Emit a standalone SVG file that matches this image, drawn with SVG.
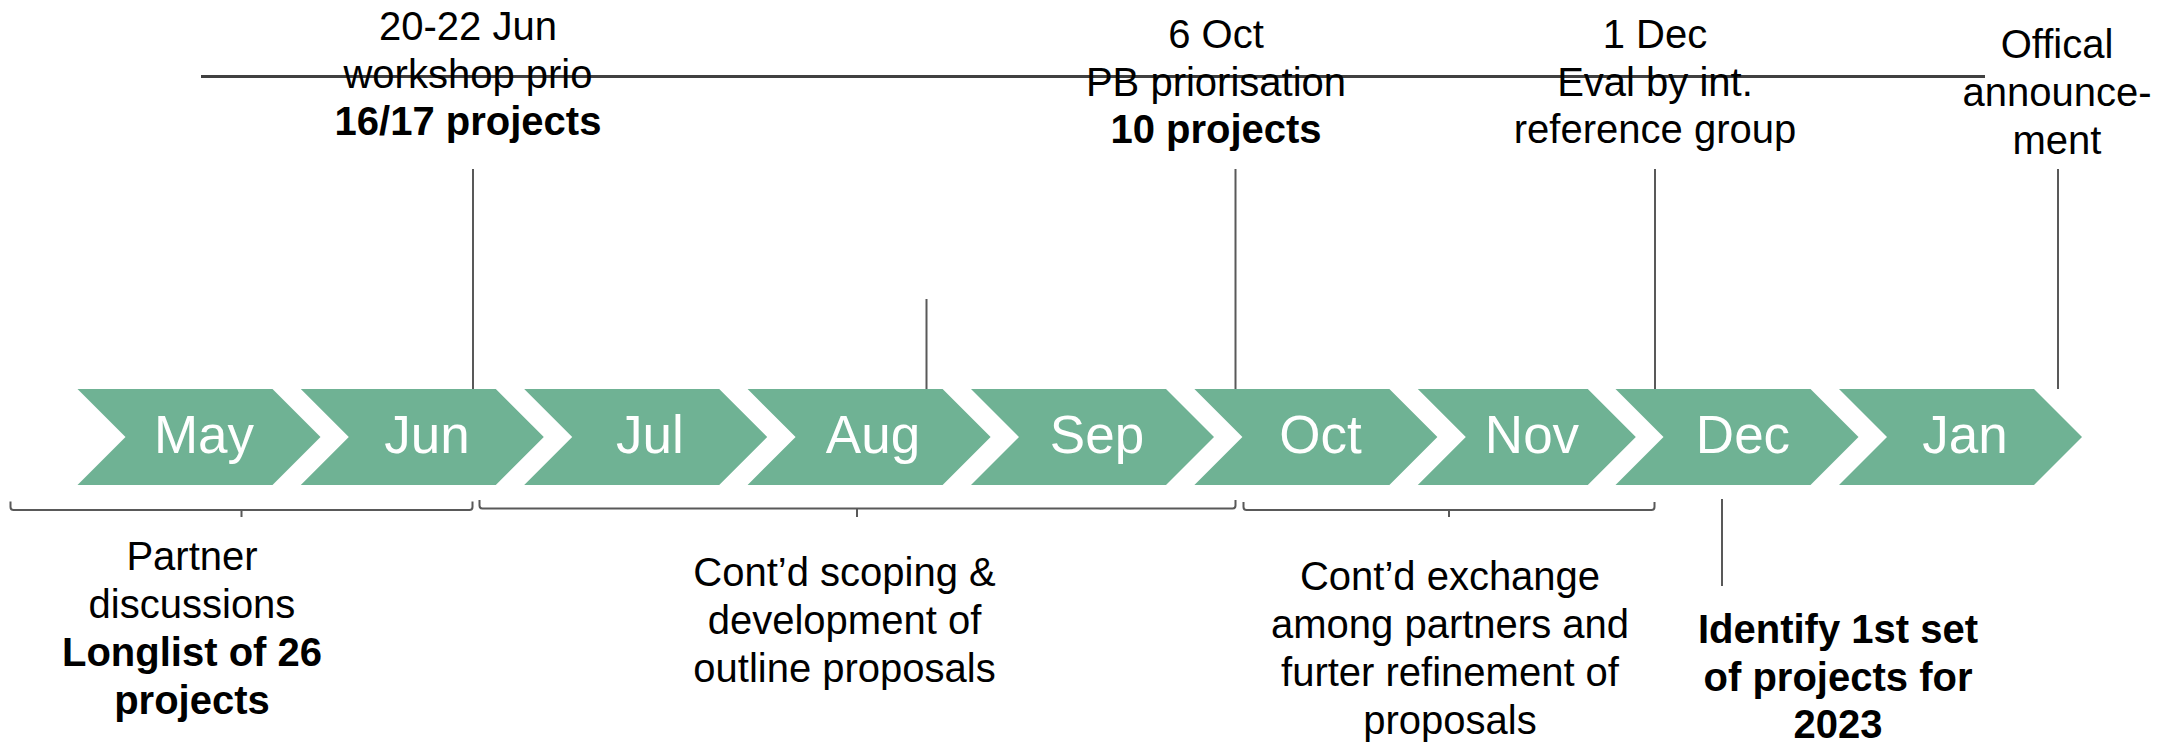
<svg xmlns="http://www.w3.org/2000/svg" width="2172" height="745" viewBox="0 0 2172 745">
<style>
.chev{fill:#6FB294;}
.mon{font-family:"Liberation Sans",Arial,sans-serif;font-size:53px;fill:#FFFFFF;text-anchor:middle;}
.lbl{font-family:"Liberation Sans",Arial,sans-serif;font-size:40px;fill:#000000;text-anchor:middle;}
.b{font-weight:bold;}
.ln{stroke:#595959;stroke-width:2;fill:none;}
.axis{stroke:#404040;stroke-width:3;fill:none;}
</style>
<rect width="2172" height="745" fill="#FFFFFF"/>
<g id="connectors">
<line class="axis" x1="201" y1="76.5" x2="1985" y2="76.5"/>
<line class="ln" x1="473" y1="169" x2="473" y2="389"/>
<line class="ln" x1="926.5" y1="299" x2="926.5" y2="389"/>
<line class="ln" x1="1235.5" y1="169" x2="1235.5" y2="389"/>
<line class="ln" x1="1655" y1="169" x2="1655" y2="389"/>
<line class="ln" x1="2058" y1="169" x2="2058" y2="389"/>
<line class="ln" x1="1722" y1="499" x2="1722" y2="586"/>
<path class="ln" d="M10.5,501.5 V507 Q10.5,510 13.5,510 H469.5 Q472.5,510 472.5,507 V501.5 M241.5,510 V517"/>
<path class="ln" d="M479.5,500 V505.5 Q479.5,508.5 482.5,508.5 H1232.5 Q1235.5,508.5 1235.5,505.5 V500 M857,508.5 V517"/>
<path class="ln" d="M1243.5,502 V507 Q1243.5,510 1246.5,510 H1651.5 Q1654.5,510 1654.5,507 V502 M1449,510 V517"/>
</g>
<g id="may"><path class="chev" d="M77.5,389 H272.5 L320.5,437 L272.5,485 H77.5 L125.5,437 Z"/><text class="mon" x="204" y="453">May</text></g>
<g id="jun"><path class="chev" d="M300.8,389 H495.8 L543.8,437 L495.8,485 H300.8 L348.8,437 Z"/><text class="mon" x="427" y="453">Jun</text></g>
<g id="jul"><path class="chev" d="M524.2,389 H719.2 L767.2,437 L719.2,485 H524.2 L572.2,437 Z"/><text class="mon" x="650" y="453">Jul</text></g>
<g id="aug"><path class="chev" d="M747.6,389 H942.6 L990.6,437 L942.6,485 H747.6 L795.6,437 Z"/><text class="mon" x="873" y="453">Aug</text></g>
<g id="sep"><path class="chev" d="M971,389 H1166 L1214,437 L1166,485 H971 L1019,437 Z"/><text class="mon" x="1097" y="453">Sep</text></g>
<g id="oct"><path class="chev" d="M1194.4,389 H1389.4 L1437.4,437 L1389.4,485 H1194.4 L1242.4,437 Z"/><text class="mon" x="1320.5" y="453">Oct</text></g>
<g id="nov"><path class="chev" d="M1417.8,389 H1587.8 L1635.8,437 L1587.8,485 H1417.8 L1465.8,437 Z"/><text class="mon" x="1532" y="453">Nov</text></g>
<g id="dec"><path class="chev" d="M1615.5,389 H1810.5 L1858.5,437 L1810.5,485 H1615.5 L1663.5,437 Z"/><text class="mon" x="1743" y="453">Dec</text></g>
<g id="jan"><path class="chev" d="M1839,389 H2034 L2082,437 L2034,485 H1839 L1887,437 Z"/><text class="mon" x="1965" y="453">Jan</text></g>
<g id="ev-jun"><text class="lbl" x="468" y="39.5">20-22 Jun</text><text class="lbl" x="468" y="87.5">workshop prio</text><text class="lbl b" x="468" y="135">16/17 projects</text></g>
<g id="ev-oct"><text class="lbl" x="1216" y="48">6 Oct</text><text class="lbl" x="1216" y="96">PB priorisation</text><text class="lbl b" x="1216" y="143">10 projects</text></g>
<g id="ev-dec"><text class="lbl" x="1655" y="48">1 Dec</text><text class="lbl" x="1655" y="96">Eval by int.</text><text class="lbl" x="1655" y="143">reference group</text></g>
<g id="ev-jan"><text class="lbl" x="2057" y="57.5">Offical</text><text class="lbl" x="2057" y="105.5">announce-</text><text class="lbl" x="2057" y="153.5">ment</text></g>
<g id="ph-partner"><text class="lbl" x="192" y="569.5">Partner</text><text class="lbl" x="192" y="617.5">discussions</text><text class="lbl b" x="192" y="665.5">Longlist of 26</text><text class="lbl b" x="192" y="713.5">projects</text></g>
<g id="ph-scoping"><text class="lbl" x="844.5" y="586">Cont’d scoping &amp;</text><text class="lbl" x="844.5" y="634">development of</text><text class="lbl" x="844.5" y="682">outline proposals</text></g>
<g id="ph-exchange"><text class="lbl" x="1450" y="590">Cont’d exchange</text><text class="lbl" x="1450" y="638">among partners and</text><text class="lbl" x="1450" y="686">furter refinement of</text><text class="lbl" x="1450" y="734">proposals</text></g>
<g id="ph-identify"><text class="lbl b" x="1838" y="643">Identify 1st set</text><text class="lbl b" x="1838" y="691">of projects for</text><text class="lbl b" x="1838" y="738">2023</text></g>
</svg>
